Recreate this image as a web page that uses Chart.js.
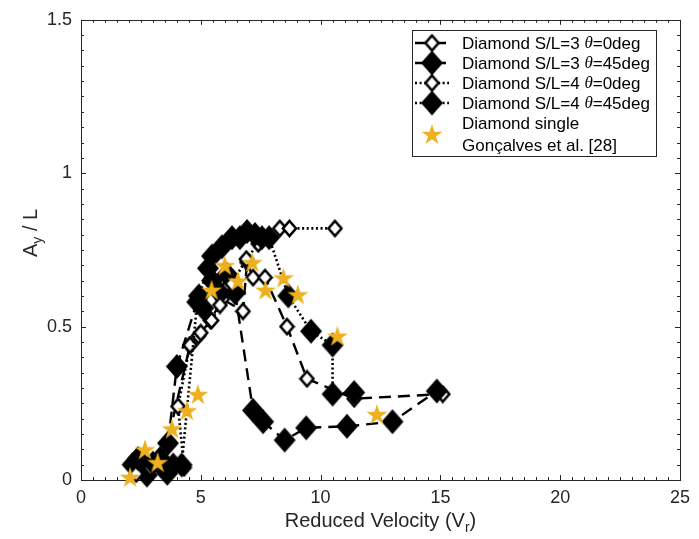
<!DOCTYPE html>
<html><head><meta charset="utf-8">
<script src="https://cdn.jsdelivr.net/npm/chart.js@4/dist/chart.umd.min.js"></script>
<style>html,body{margin:0;padding:0;background:#fff;}#wrap{width:699px;height:539px;position:relative;}</style>
</head><body><div id="wrap"><canvas id="c" width="699" height="539"></canvas></div>
<script>
// ---- data ----
const sl3t0X = [2.2, 2.7, 3.2, 3.6, 4.55, 4.9, 5.4, 5.9, 6.76, 6.93, 7.18, 7.68, 8.6, 9.43, 11.4, 15.1];
const sl3t0Y = [0.04, 0.03, 0.05, 0.12, 0.44, 0.47, 0.52, 0.59, 0.55, 0.71, 0.66, 0.66, 0.50, 0.33, 0.265, 0.28];

const sl3t45X = [2.15, 2.75, 3.3, 3.63, 4.0, 4.92, 5.1, 5.47, 5.8, 6.1, 6.43, 7.18, 7.6, 8.5, 9.4, 11.1, 13.0, 14.85];
const sl3t45Y = [0.05, 0.016, 0.07, 0.12, 0.37, 0.60, 0.56, 0.65, 0.61, 0.67, 0.61, 0.227, 0.19, 0.13, 0.17, 0.175, 0.19, 0.29];

const sl4t0X = [2.3, 2.9, 4.3, 4.05, 4.55, 5.0, 5.45, 5.8, 6.3, 6.9, 7.4, 7.9, 8.3, 8.7, 10.6];
const sl4t0Y = [0.02, 0.04, 0.04, 0.24, 0.44, 0.48, 0.52, 0.57, 0.64, 0.72, 0.77, 0.79, 0.82, 0.82, 0.82];

const sl4t45X = [2.38, 3.0, 3.6, 3.85, 4.2, 4.85, 5.3, 5.47, 5.88, 6.3, 6.63, 6.93, 7.26, 7.55, 7.85, 8.65, 9.6, 10.5, 10.5, 11.4];
const sl4t45Y = [0.07, 0.055, 0.022, 0.049, 0.049, 0.58, 0.69, 0.73, 0.76, 0.79, 0.79, 0.81, 0.80, 0.79, 0.79, 0.60, 0.485, 0.44, 0.28, 0.285];

const singleX = [2.05, 2.67, 3.2, 3.8, 4.42, 4.88, 5.45, 6.0, 6.55, 7.15, 7.7, 8.45, 9.05, 10.7, 12.35];
const singleY = [0.01, 0.10, 0.058, 0.168, 0.227, 0.28, 0.62, 0.70, 0.65, 0.71, 0.62, 0.66, 0.605, 0.47, 0.215];

const xTicks = [0, 5, 10, 15, 20, 25];
const yTicks = [0, 0.5, 1, 1.5];

const legendLabels = [
  ['Diamond S/L=3 ', 'θ', '=0deg'],
  ['Diamond S/L=3 ', 'θ', '=45deg'],
  ['Diamond S/L=4 ', 'θ', '=0deg'],
  ['Diamond S/L=4 ', 'θ', '=45deg'],
  ['Diamond single', 'Gonçalves et al. [28]']
];

// ---- styles ----
const FONT = '"Liberation Sans", Arial, Helvetica, sans-serif';
const AXC = '#262626';
const STAR = '#EDB120';
const DASH = [12, 7];
const DOT = [2, 2.6];

function diamondImg(w, h, filled) {
  const c = document.createElement('canvas');
  c.width = w + 4; c.height = h + 4;
  const g = c.getContext('2d');
  const cx = c.width / 2, cy = c.height / 2;
  g.beginPath();
  g.moveTo(cx, cy - h / 2); g.lineTo(cx + w / 2, cy); g.lineTo(cx, cy + h / 2); g.lineTo(cx - w / 2, cy); g.closePath();
  g.lineJoin = 'miter';
  if (filled) { g.fillStyle = '#000'; g.fill(); }
  else { g.fillStyle = '#fff'; g.fill(); g.lineWidth = 2.6; g.strokeStyle = '#000'; g.stroke(); }
  return c;
}
function starImg(R) {
  const c = document.createElement('canvas');
  c.width = c.height = Math.ceil(2 * R + 4);
  const g = c.getContext('2d');
  const cx = c.width / 2, cy = c.height / 2 + R * 0.1;
  const r = R * 0.382;
  g.beginPath();
  for (let i = 0; i < 10; i++) {
    const a = -Math.PI / 2 + i * Math.PI / 5;
    const rr = i % 2 === 0 ? R : r;
    const px = cx + rr * Math.cos(a), py = cy + rr * Math.sin(a);
    if (i === 0) g.moveTo(px, py); else g.lineTo(px, py);
  }
  g.closePath();
  g.fillStyle = STAR; g.fill();
  return c;
}
const openD = diamondImg(13, 15, false);
const fillD = diamondImg(22, 25, true);
const starP = starImg(11);

function pts(xs, ys) { return xs.map((x, i) => ({ x: x, y: ys[i] })); }

const datasets = [
  { label: 'Diamond S/L=3 θ=0deg', data: pts(sl3t0X, sl3t0Y), showLine: true, borderColor: '#000', borderWidth: 2.4, borderDash: DASH, pointStyle: openD, order: 4, clip: false },
  { label: 'Diamond S/L=3 θ=45deg', data: pts(sl3t45X, sl3t45Y), showLine: true, borderColor: '#000', borderWidth: 2.4, borderDash: DASH, pointStyle: fillD, order: 3, clip: false },
  { label: 'Diamond S/L=4 θ=0deg', data: pts(sl4t0X, sl4t0Y), showLine: true, borderColor: '#000', borderWidth: 2.6, borderDash: DOT, pointStyle: openD, order: 2, clip: false },
  { label: 'Diamond S/L=4 θ=45deg', data: pts(sl4t45X, sl4t45Y), showLine: true, borderColor: '#000', borderWidth: 2.6, borderDash: DOT, pointStyle: fillD, order: 1, clip: false },
  { label: 'Diamond single Gonçalves et al. [28]', data: pts(singleX, singleY), showLine: false, pointStyle: starP, order: 0, clip: false }
];

const frame = {
  id: 'frame',
  beforeDatasetsDraw(chart) {
    const { ctx, chartArea: a, scales } = chart;
    ctx.save();
    ctx.strokeStyle = AXC; ctx.lineWidth = 1;
    ctx.strokeRect(Math.round(a.left) + 0.5, Math.round(a.top) + 0.5, Math.round(a.right - a.left), Math.round(a.bottom - a.top));
    ctx.beginPath();
    for (let v = 0; v <= 25.001; v += 0.5) {
      const px = Math.round(scales.x.getPixelForValue(v)) + 0.5;
      const major = Math.abs(v / 5 - Math.round(v / 5)) < 1e-6;
      const L = major ? 5 : 3;
      ctx.moveTo(px, a.bottom); ctx.lineTo(px, a.bottom - L);
      ctx.moveTo(px, a.top); ctx.lineTo(px, a.top + L);
    }
    for (let i = 0; i <= 30; i++) {
      const v = i * 0.05;
      const py = Math.round(scales.y.getPixelForValue(v)) + 0.5;
      const major = i % 10 === 0;
      const L = major ? 5 : 3;
      ctx.moveTo(a.left, py); ctx.lineTo(a.left + L, py);
      ctx.moveTo(a.right, py); ctx.lineTo(a.right - L, py);
    }
    ctx.stroke();
    ctx.restore();
  },
  afterDraw(chart) {
    const { ctx, chartArea: a } = chart;
    ctx.save();
    ctx.fillStyle = AXC;
    ctx.font = '20px ' + FONT;
    ctx.textBaseline = 'alphabetic';
    const t1 = 'Reduced Velocity (V', sub = 'r', t2 = ')';
    const w1 = ctx.measureText(t1).width;
    ctx.font = '14px ' + FONT; const ws = ctx.measureText(sub).width;
    ctx.font = '20px ' + FONT; const w2 = ctx.measureText(t2).width;
    let x0 = (a.left + a.right) / 2 - (w1 + ws + w2) / 2;
    const by = 527;
    ctx.fillText(t1, x0, by);
    ctx.font = '14px ' + FONT; ctx.fillText(sub, x0 + w1, by + 5);
    ctx.font = '20px ' + FONT; ctx.fillText(t2, x0 + w1 + ws, by);
    // y title
    ctx.translate(37, (a.top + a.bottom) / 2);
    ctx.rotate(-Math.PI / 2);
    const s1 = 'A', s2 = 'y', s3 = ' / L';
    ctx.font = '20px ' + FONT; const u1 = ctx.measureText(s1).width; const u3 = ctx.measureText(s3).width;
    ctx.font = '14px ' + FONT; const u2 = ctx.measureText(s2).width;
    let y0 = -(u1 + u2 + u3) / 2 + 17;
    ctx.font = '20px ' + FONT; ctx.fillText(s1, y0, 0);
    ctx.font = '14px ' + FONT; ctx.fillText(s2, y0 + u1, 5);
    ctx.font = '20px ' + FONT; ctx.fillText(s3, y0 + u1 + u2, 0);
    ctx.restore();

    // legend
    ctx.save();
    const bx = 412.5, byy = 30.5, bw = 244, bh = 126;
    ctx.fillStyle = '#fff'; ctx.fillRect(bx, byy, bw, bh);
    ctx.strokeStyle = AXC; ctx.lineWidth = 1; ctx.strokeRect(bx, byy, bw, bh);
    const rows = [43, 63, 83, 103];
    const dashes = [DASH, DASH, DOT, DOT];
    const imgs = [openD, fillD, openD, fillD];
    const tx = 462;
    const LF = '17px ' + FONT;
    for (let i = 0; i < 4; i++) {
      const y = rows[i];
      ctx.beginPath(); ctx.setLineDash(dashes[i]); ctx.lineWidth = 2.4; ctx.strokeStyle = '#000';
      ctx.moveTo(415, y); ctx.lineTo(449, y); ctx.stroke();
      ctx.setLineDash([]);
      const im = imgs[i];
      ctx.drawImage(im, 432 - im.width / 2, y - im.height / 2);
      ctx.fillStyle = '#000'; ctx.textBaseline = 'middle';
      const lab = legendLabels[i];
      ctx.font = LF; ctx.fillText(lab[0], tx, y + 1);
      let w = ctx.measureText(lab[0]).width;
      ctx.font = 'italic 17px "Liberation Serif", "DejaVu Serif", serif'; ctx.fillText(lab[1], tx + w, y + 1);
      w += ctx.measureText(lab[1]).width;
      ctx.font = LF; ctx.fillText(lab[2], tx + w, y + 1);
    }
    ctx.drawImage(starP, 432 - starP.width / 2, 134 - starP.height / 2);
    ctx.fillStyle = '#000'; ctx.font = LF; ctx.textBaseline = 'middle';
    ctx.fillText(legendLabels[4][0], tx, 124);
    ctx.fillText(legendLabels[4][1], tx, 146);
    ctx.restore();
  }
};

new Chart(document.getElementById('c'), {
  type: 'scatter',
  data: { datasets },
  options: {
    responsive: false,
    animation: false,
    devicePixelRatio: 1,
    layout: { padding: { top: 17, right: 19, left: 0, bottom: 0 } },
    elements: { point: { radius: 10, hoverRadius: 10 }, line: { tension: 0, fill: false } },
    plugins: { legend: { display: false }, tooltip: { enabled: false }, title: { display: false } },
    scales: {
      x: {
        type: 'linear', min: 0, max: 25,
        afterFit(s) { s.height = 59; },
        afterBuildTicks(s) { s.ticks = xTicks.map(v => ({ value: v })); },
        grid: { display: false, drawTicks: false }, border: { display: false },
        ticks: { padding: 7, color: AXC, font: { family: FONT, size: 18 }, maxRotation: 0, callback: v => String(v) }
      },
      y: {
        type: 'linear', min: 0, max: 1.5,
        afterFit(s) { s.width = 81; },
        afterBuildTicks(s) { s.ticks = yTicks.map(v => ({ value: v })); },
        grid: { display: false, drawTicks: false }, border: { display: false },
        ticks: { padding: 9, color: AXC, font: { family: FONT, size: 18 }, callback: v => String(v) }
      }
    }
  },
  plugins: [frame]
});
</script></body></html>
